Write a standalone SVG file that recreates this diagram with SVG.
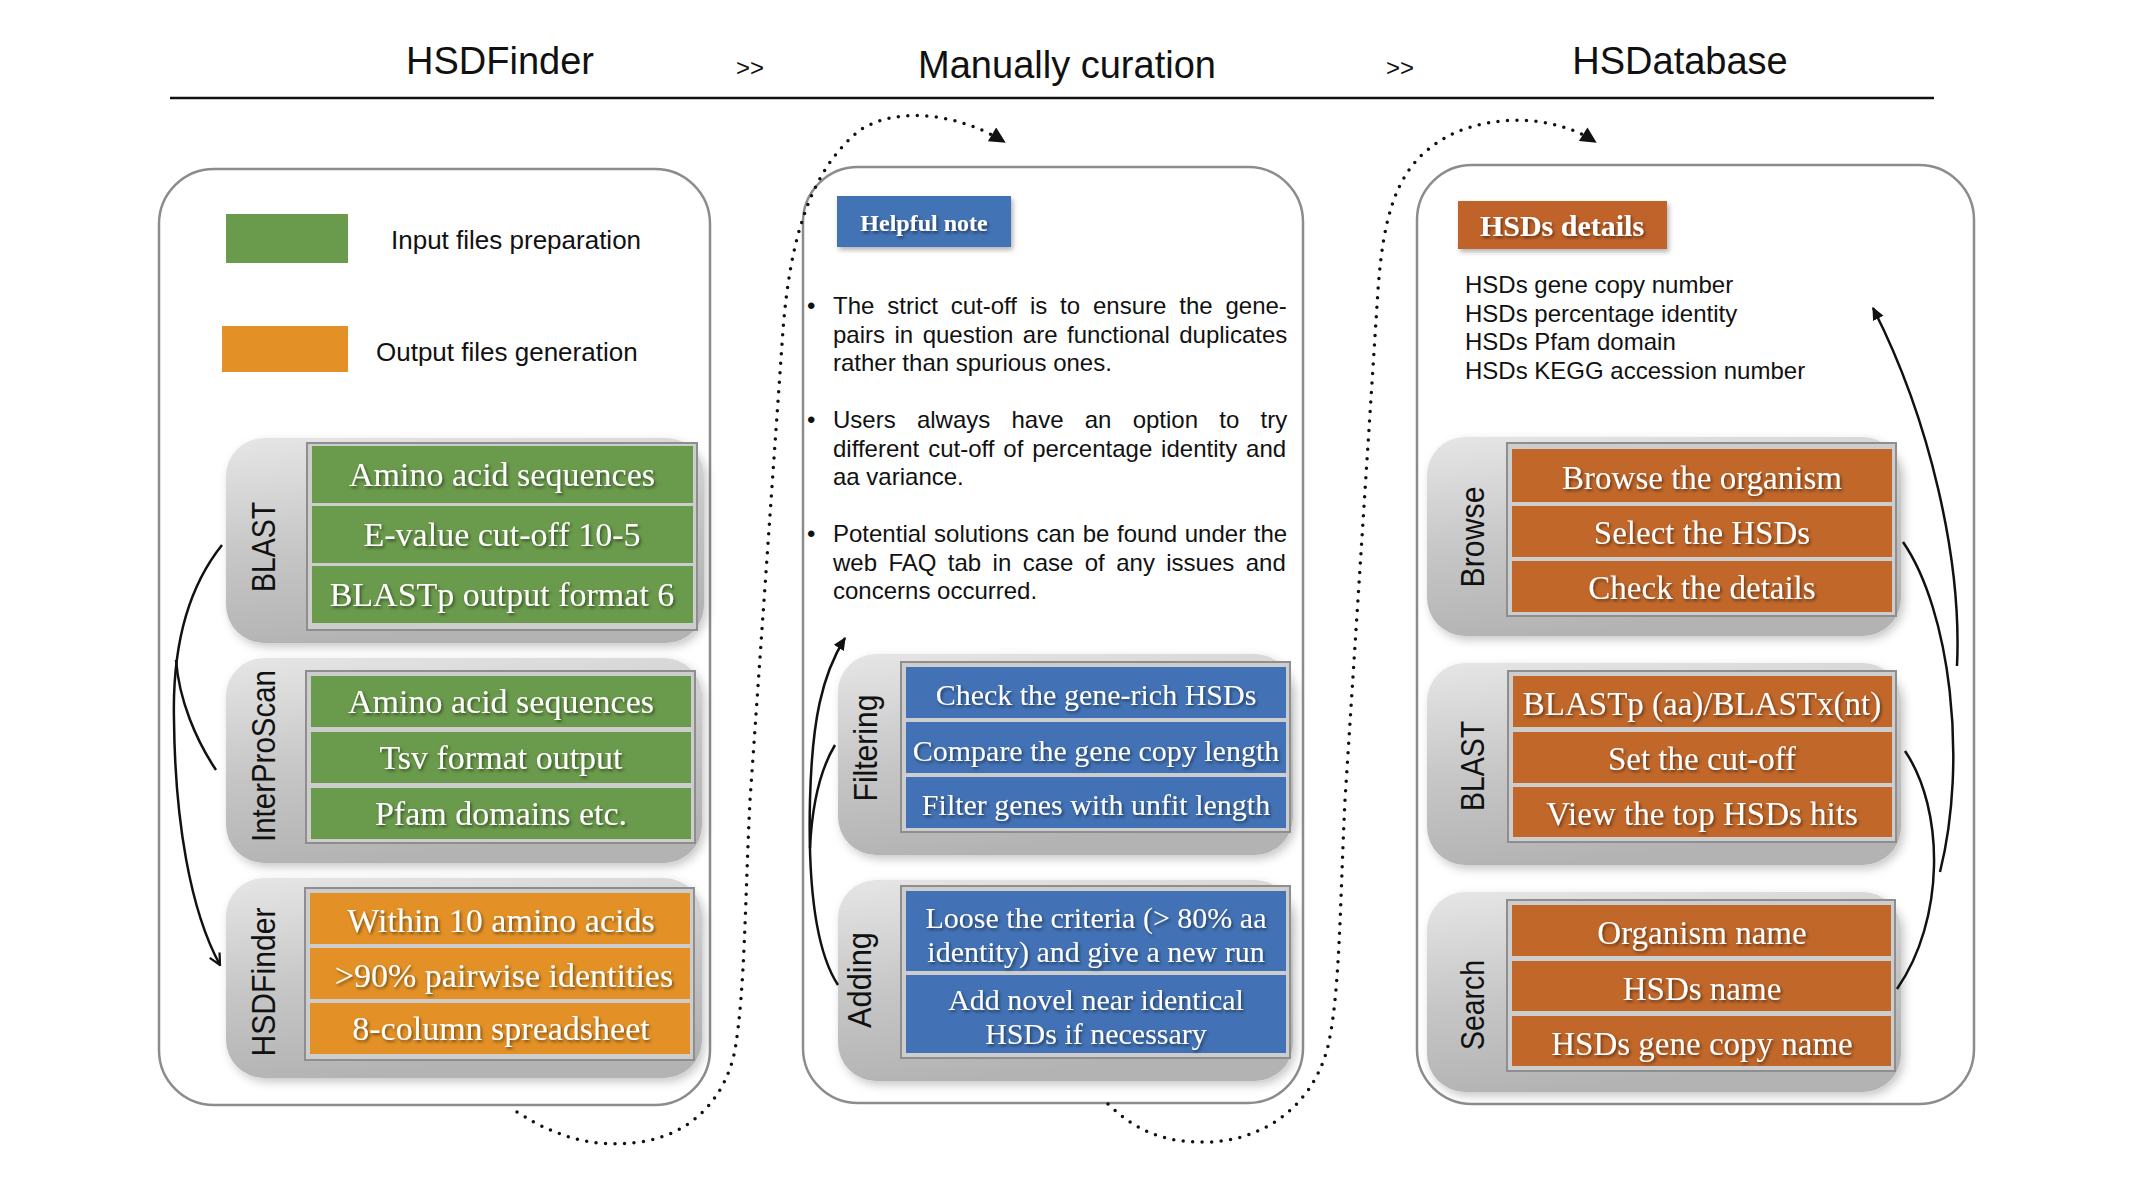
<svg xmlns="http://www.w3.org/2000/svg" width="2133" height="1187" viewBox="0 0 2133 1187">
<defs>
<style>
.ttl{font-family:"Liberation Sans",Arial,sans-serif;font-size:38px;fill:#111;text-anchor:middle}
.gt{font-family:"Liberation Sans",Arial,sans-serif;font-size:24px;fill:#111}
.lbl{font-family:"Liberation Sans",Arial,sans-serif;font-size:34px;fill:#111;text-anchor:middle}
.leg{font-family:"Liberation Sans",Arial,sans-serif;font-size:26px;fill:#111}
.body{font-family:"Liberation Sans",Arial,sans-serif;font-size:24px;fill:#111}
.panel{fill:#fff;stroke:#8c8c8e;stroke-width:2.5}
.gb{fill:url(#gg);filter:url(#bs)}
.tbl{fill:#cdcdcd;stroke:#8e8e8e;stroke-width:2}
.g{fill:#6a9a4b}
.o{fill:#e39126}
.b{fill:#4272b5}
.r{fill:#c1672a}
.rt{font-family:"Liberation Serif","Times New Roman",serif;fill:#fff;text-anchor:middle;filter:url(#ts)}
.l34{font-size:34px}
.m30{font-size:30px}
.r33{font-size:33px}
.con{fill:none;stroke:#111;stroke-width:2.5}
.dot{fill:none;stroke:#111;stroke-width:3.5;stroke-linecap:round;stroke-dasharray:0 9.5}
</style>
<linearGradient id="gg" x1="0" y1="0" x2="0.25" y2="1">
<stop offset="0" stop-color="#e6e6e6"/>
<stop offset="0.55" stop-color="#c6c6c6"/>
<stop offset="1" stop-color="#b3b3b3"/>
</linearGradient>
<filter id="bs" x="-10%" y="-15%" width="125%" height="135%">
<feDropShadow dx="3" dy="4" stdDeviation="5" flood-color="#000" flood-opacity="0.22"/>
</filter>
<filter id="ts" x="-10%" y="-40%" width="120%" height="180%">
<feDropShadow dx="1.5" dy="2" stdDeviation="1.5" flood-color="#000" flood-opacity="0.5"/>
</filter>
<filter id="hs" x="-10%" y="-20%" width="125%" height="150%">
<feDropShadow dx="2" dy="3" stdDeviation="2.5" flood-color="#000" flood-opacity="0.3"/>
</filter>
<marker id="ah" viewBox="0 0 10 10" refX="9" refY="5" markerWidth="13" markerHeight="13" markerUnits="userSpaceOnUse" orient="auto">
<path d="M0,0.5 L10,5 L0,9.5 z" fill="#111" stroke="none"/>
</marker>
<marker id="av" viewBox="0 0 10 10" refX="9" refY="5" markerWidth="14" markerHeight="14" markerUnits="userSpaceOnUse" orient="auto">
<path d="M1,1 L9,5 L1,9" fill="none" stroke="#111" stroke-width="1.6"/>
</marker>
<marker id="ad" viewBox="0 0 10 10" refX="8" refY="5" markerWidth="18" markerHeight="16" markerUnits="userSpaceOnUse" orient="auto">
<path d="M0,0 L10,5 L0,10 z" fill="#111" stroke="none"/>
</marker>
</defs>
<rect width="2133" height="1187" fill="#fff"/>

<g id="header">
<text class="ttl" x="500" y="74">HSDFinder</text>
<text class="gt" x="736" y="76">&gt;&gt;</text>
<text class="ttl" x="1067" y="78">Manually curation</text>
<text class="gt" x="1386" y="76">&gt;&gt;</text>
<text class="ttl" x="1680" y="74">HSDatabase</text>
<line x1="170" y1="98" x2="1934" y2="98" stroke="#111" stroke-width="2.5"/>
</g>

<g id="panel-hsdfinder">
<rect class="panel" x="159" y="169" width="551" height="936" rx="55"/>
<g id="legend">
<rect class="g" x="226" y="214" width="122" height="49"/>
<text class="leg" x="391" y="249">Input files preparation</text>
<rect class="o" x="222" y="326" width="126" height="46"/>
<text class="leg" x="376" y="361">Output files generation</text>
</g>
<g id="node-blast-left">
<rect class="gb" x="226" y="438" width="478" height="205" rx="38"/>
<rect class="tbl" x="307" y="443" width="390" height="187"/>
<rect class="g" x="312" y="446" width="381" height="57"/>
<rect class="g" x="312" y="506" width="381" height="57"/>
<rect class="g" x="312" y="566" width="381" height="57"/>
<text class="rt l34" x="502" y="486">Amino acid sequences</text>
<text class="rt l34" x="502" y="546">E-value cut-off 10-5</text>
<text class="rt l34" x="502" y="606">BLASTp output format 6</text>
<text class="lbl" transform="translate(275,547) rotate(-90)" textLength="90" lengthAdjust="spacingAndGlyphs">BLAST</text>
</g>
<g id="node-interproscan">
<rect class="gb" x="226" y="658" width="476" height="205" rx="38"/>
<rect class="tbl" x="306" y="671" width="389" height="172"/>
<rect class="g" x="311" y="676" width="380" height="51"/>
<rect class="g" x="311" y="732" width="380" height="51"/>
<rect class="g" x="311" y="788" width="380" height="51"/>
<text class="rt l34" x="501" y="713">Amino acid sequences</text>
<text class="rt l34" x="501" y="769">Tsv format output</text>
<text class="rt l34" x="501" y="825">Pfam domains etc.</text>
<text class="lbl" transform="translate(275,756) rotate(-90)" textLength="172" lengthAdjust="spacingAndGlyphs">InterProScan</text>
</g>
<g id="node-hsdfinder">
<rect class="gb" x="226" y="878" width="476" height="200" rx="38"/>
<rect class="tbl" x="305" y="888" width="389" height="172"/>
<rect class="o" x="310" y="893" width="380" height="51"/>
<rect class="o" x="310" y="948" width="380" height="51"/>
<rect class="o" x="310" y="1003" width="380" height="51"/>
<text class="rt l34" x="501" y="932">Within 10 amino acids</text>
<text class="rt l34" x="504" y="987">&gt;90% pairwise identities</text>
<text class="rt l34" x="501" y="1040">8-column spreadsheet</text>
<text class="lbl" transform="translate(275,982) rotate(-90)" textLength="149" lengthAdjust="spacingAndGlyphs">HSDFinder</text>
</g>
</g>

<g id="panel-curation">
<rect class="panel" x="803" y="167" width="500" height="936" rx="55"/>
<g id="node-helpful-note">
<rect x="837" y="196" width="174" height="51" fill="#4273b5" filter="url(#hs)"/>
<text x="924" y="231" font-family="'Liberation Serif','Times New Roman',serif" font-size="24" font-weight="bold" fill="#fff" text-anchor="middle" filter="url(#ts)">Helpful note</text>
</g>
<g id="notes">
<text class="body" x="807" y="314">•</text>
<text class="body" x="833" y="314" word-spacing="6.2">The strict cut-off is to ensure the gene-</text>
<text class="body" x="833" y="343" word-spacing="2.8">pairs in question are functional duplicates</text>
<text class="body" x="833" y="371">rather than spurious ones.</text>
<text class="body" x="807" y="428">•</text>
<text class="body" x="833" y="428" word-spacing="14.55">Users always have an option to try</text>
<text class="body" x="833" y="457" word-spacing="2.2">different cut-off of percentage identity and</text>
<text class="body" x="833" y="485">aa variance.</text>
<text class="body" x="807" y="542">•</text>
<text class="body" x="833" y="542" word-spacing="0.97">Potential solutions can be found under the</text>
<text class="body" x="833" y="571" word-spacing="4.73">web FAQ tab in case of any issues and</text>
<text class="body" x="833" y="599">concerns occurred.</text>
</g>
<g id="node-filtering">
<rect class="gb" x="838" y="654" width="455" height="201" rx="38"/>
<rect class="tbl" x="901" y="662" width="389" height="170"/>
<rect class="b" x="906" y="667" width="380" height="51"/>
<rect class="b" x="906" y="722" width="380" height="51"/>
<rect class="b" x="906" y="777" width="380" height="51"/>
<text class="rt m30" x="1096" y="705">Check the gene-rich HSDs</text>
<text class="rt m30" x="1096" y="761">Compare the gene copy length</text>
<text class="rt m30" x="1096" y="815">Filter genes with unfit length</text>
<text class="lbl" transform="translate(877,748) rotate(-90)" textLength="107" lengthAdjust="spacingAndGlyphs">Filtering</text>
</g>
<g id="node-adding">
<rect class="gb" x="838" y="880" width="455" height="201" rx="38"/>
<rect class="tbl" x="901" y="886" width="389" height="172"/>
<rect class="b" x="906" y="891" width="380" height="80"/>
<rect class="b" x="906" y="975" width="380" height="78"/>
<text class="rt m30" x="1096" y="928">Loose the criteria (&gt; 80% aa</text>
<text class="rt m30" x="1096" y="962">identity) and give a new run</text>
<text class="rt m30" x="1096" y="1010">Add novel near identical</text>
<text class="rt m30" x="1096" y="1044">HSDs if necessary</text>
<text class="lbl" transform="translate(871,980) rotate(-90)" textLength="96" lengthAdjust="spacingAndGlyphs">Adding</text>
</g>
</g>

<g id="panel-hsdatabase">
<rect class="panel" x="1417" y="165" width="557" height="939" rx="55"/>
<g id="node-hsds-details">
<rect x="1458" y="201" width="209" height="48" fill="#c0632a" filter="url(#hs)"/>
<text x="1562" y="236" font-family="'Liberation Serif','Times New Roman',serif" font-size="30" font-weight="bold" fill="#fff" text-anchor="middle" filter="url(#ts)">HSDs details</text>
<text class="body" x="1465" y="293">HSDs gene copy number</text>
<text class="body" x="1465" y="321.5">HSDs percentage identity</text>
<text class="body" x="1465" y="350">HSDs Pfam domain</text>
<text class="body" x="1465" y="378.5">HSDs KEGG accession number</text>
</g>
<g id="node-browse">
<rect class="gb" x="1427" y="437" width="474" height="199" rx="38"/>
<rect class="tbl" x="1507" y="443" width="389" height="173"/>
<rect class="r" x="1512" y="449" width="380" height="53"/>
<rect class="r" x="1512" y="506" width="380" height="51"/>
<rect class="r" x="1512" y="561" width="380" height="51"/>
<text class="rt r33" x="1702" y="489">Browse the organism</text>
<text class="rt r33" x="1702" y="544">Select the HSDs</text>
<text class="rt r33" x="1702" y="599">Check the details</text>
<text class="lbl" transform="translate(1484,537) rotate(-90)" textLength="101" lengthAdjust="spacingAndGlyphs">Browse</text>
</g>
<g id="node-blast-right">
<rect class="gb" x="1427" y="663" width="474" height="202" rx="38"/>
<rect class="tbl" x="1508" y="671" width="388" height="171"/>
<rect class="r" x="1513" y="676" width="379" height="51"/>
<rect class="r" x="1513" y="732" width="379" height="51"/>
<rect class="r" x="1513" y="787" width="379" height="50"/>
<text class="rt r33" x="1702" y="715">BLASTp (aa)/BLASTx(nt)</text>
<text class="rt r33" x="1702" y="770">Set the cut-off</text>
<text class="rt r33" x="1702" y="825">View the top HSDs hits</text>
<text class="lbl" transform="translate(1484,766) rotate(-90)" textLength="90" lengthAdjust="spacingAndGlyphs">BLAST</text>
</g>
<g id="node-search">
<rect class="gb" x="1427" y="892" width="474" height="200" rx="38"/>
<rect class="tbl" x="1507" y="900" width="388" height="171"/>
<rect class="r" x="1512" y="905" width="379" height="51"/>
<rect class="r" x="1512" y="961" width="379" height="50"/>
<rect class="r" x="1512" y="1016" width="379" height="50"/>
<text class="rt r33" x="1702" y="944">Organism name</text>
<text class="rt r33" x="1702" y="1000">HSDs name</text>
<text class="rt r33" x="1702" y="1055">HSDs gene copy name</text>
<text class="lbl" transform="translate(1484,1005) rotate(-90)" textLength="90" lengthAdjust="spacingAndGlyphs">Search</text>
</g>
</g>

<g id="connectors">
<path class="con" d="M222 545 C190 585 172 640 174 720 C175 820 190 910 220 965" marker-end="url(#av)"/>
<path class="con" d="M216 770 C196 740 179 700 176 660"/>
<path class="con" d="M838 985 C815 950 808 880 810 800 C812 720 822 675 845 638" marker-end="url(#ah)"/>
<path class="con" d="M835 745 C820 770 812 805 810 848"/>
<path class="con" d="M1905 751 C1945 810 1945 920 1897 989"/>
<path class="con" d="M1903 542 C1950 610 1968 760 1940 872"/>
<path class="con" d="M1957 666 C1962 560 1930 420 1873 308" marker-end="url(#ah)"/>
<path class="dot" d="M517 1112 C560 1140 600 1148 640 1142 C690 1135 725 1100 735 1050 C745 990 745 900 750 800 L783 330 C790 240 810 170 860 130 C900 105 960 115 1003 141" marker-end="url(#ad)"/>
<path class="dot" d="M1108 1104 C1140 1135 1170 1143 1210 1142 C1260 1140 1310 1110 1327 1050 C1340 1000 1340 900 1345 800 L1378 290 C1383 220 1395 175 1430 148 C1470 115 1545 110 1594 141" marker-end="url(#ad)"/>
</g>
</svg>
